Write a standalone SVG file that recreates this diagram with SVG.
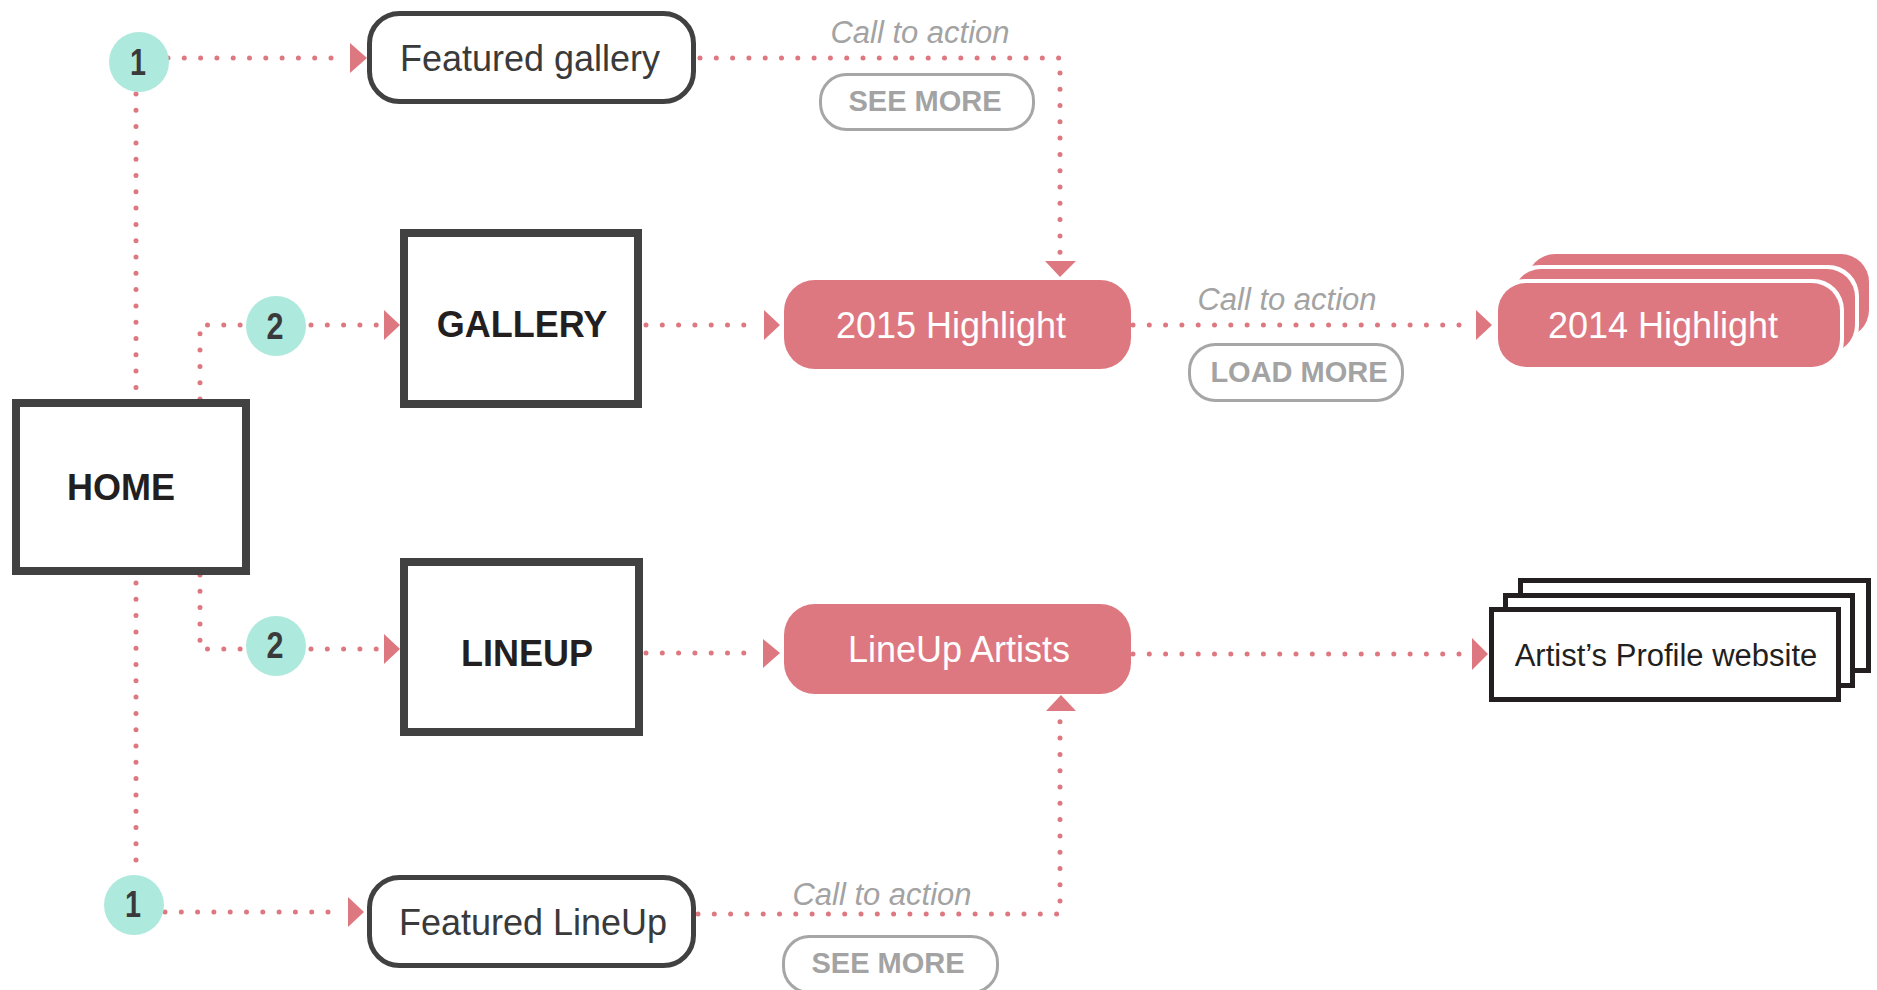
<svg xmlns="http://www.w3.org/2000/svg" width="1877" height="990" viewBox="0 0 1877 990">
<defs>
<style>
.dot{fill:none;stroke:#de7880;stroke-width:5;stroke-linecap:round;stroke-dasharray:0 16.3}
.arr{fill:#de7880}
.badge{fill:#aee9de}
.num{font-family:"Liberation Sans",Arial,sans-serif;font-weight:bold;font-size:36px;fill:#3a3a3a;text-anchor:middle}
.box{fill:#fff;stroke:#414141;stroke-width:8}
.rbox{fill:#fff;stroke:#414141;stroke-width:5}
.pink{fill:#de7880}
.big{font-family:"Liberation Sans",Arial,sans-serif;font-weight:bold;font-size:36px;fill:#231f20;text-anchor:middle}
.reg{font-family:"Liberation Sans",Arial,sans-serif;font-size:36px;fill:#3a3a3a;text-anchor:middle}
.wt{font-family:"Liberation Sans",Arial,sans-serif;font-size:36px;fill:#fff;text-anchor:middle}
.cta{font-family:"Liberation Sans",Arial,sans-serif;font-style:italic;font-size:31px;fill:#a3a3a3;text-anchor:middle}
.btn{fill:#fff;stroke:#a6a6a6;stroke-width:3}
.btnt{font-family:"Liberation Sans",Arial,sans-serif;font-weight:bold;font-size:29px;fill:#a3a3a3;text-anchor:middle}
.page{fill:#fff;stroke:#231f20;stroke-width:5}
.pt{font-family:"Liberation Sans",Arial,sans-serif;font-size:31px;fill:#231f20;text-anchor:middle}
</style>
</defs>
<rect width="1877" height="990" fill="#fff"/>

<g id="connectors">
<path class="dot" d="M168 58 H343"/>
<polygon class="arr" points="350,43 367,58 350,73"/>
<path class="dot" d="M136 94 V390"/>
<path class="dot" d="M136 583 V862"/>
<path class="dot" d="M200 399 V325 H246"/>
<path class="dot" d="M311 325 H378"/>
<polygon class="arr" points="384,310 400,325 384,340"/>
<path class="dot" d="M200 575 V649 H246"/>
<path class="dot" d="M311 649 H378"/>
<polygon class="arr" points="384,634 400,649 384,664"/>
<path class="dot" d="M165 912 H342"/>
<polygon class="arr" points="348,897 364,912 348,927"/>
<path class="dot" d="M700 58 H1060 V253"/>
<polygon class="arr" points="1045,261 1076,261 1060,277"/>
<path class="dot" d="M646 325 H758"/>
<polygon class="arr" points="764,310 780,325 764,340"/>
<path class="dot" d="M1133 325 H1470"/>
<polygon class="arr" points="1476,310 1492,325 1476,340"/>
<path class="dot" d="M646 653 H758"/>
<polygon class="arr" points="763,639 780,653 763,668"/>
<path class="dot" d="M1133 654 H1466"/>
<polygon class="arr" points="1472,638 1488,654 1472,670"/>
<path class="dot" d="M698 914 H1060 V719"/>
<polygon class="arr" points="1046,711 1076,711 1061,695"/>
</g>

<g id="badge-1-top">
<circle class="badge" cx="139" cy="62" r="30"/>
<text class="num" x="138" y="75" textLength="16" lengthAdjust="spacingAndGlyphs">1</text>
</g>
<g id="badge-2-top">
<circle class="badge" cx="276" cy="326" r="30"/>
<text class="num" x="275" y="339" textLength="17" lengthAdjust="spacingAndGlyphs">2</text>
</g>
<g id="badge-2-bottom">
<circle class="badge" cx="276" cy="646" r="30"/>
<text class="num" x="275" y="658" textLength="17" lengthAdjust="spacingAndGlyphs">2</text>
</g>
<g id="badge-1-bottom">
<circle class="badge" cx="134" cy="905" r="30"/>
<text class="num" x="133" y="917" textLength="16" lengthAdjust="spacingAndGlyphs">1</text>
</g>

<g id="home">
<rect class="box" x="16" y="403" width="230" height="168"/>
<text class="big" x="121" y="500">HOME</text>
</g>
<g id="gallery">
<rect class="box" x="404" y="233" width="234" height="171"/>
<text class="big" x="522" y="337">GALLERY</text>
</g>
<g id="lineup">
<rect class="box" x="404" y="562" width="235" height="170"/>
<text class="big" x="527" y="666">LINEUP</text>
</g>

<g id="featured-gallery">
<rect class="rbox" x="369.5" y="13.5" width="324" height="88" rx="30"/>
<text class="reg" x="530" y="71">Featured gallery</text>
</g>
<g id="featured-lineup">
<rect class="rbox" x="369.5" y="877.5" width="324" height="88" rx="30"/>
<text class="reg" x="533" y="935">Featured LineUp</text>
</g>

<g id="highlight-2015">
<rect class="pink" x="784" y="280" width="347" height="89" rx="31"/>
<text class="wt" x="951" y="338">2015 Highlight</text>
</g>
<g id="lineup-artists">
<rect class="pink" x="784" y="604" width="347" height="90" rx="31"/>
<text class="wt" x="959" y="662">LineUp Artists</text>
</g>

<g id="highlight-2014">
<rect class="pink" x="1527" y="254" width="342" height="84" rx="28"/>
<rect fill="#fff" x="1509" y="265" width="350" height="92" rx="31"/>
<rect class="pink" x="1513" y="269" width="342" height="84" rx="28"/>
<rect fill="#fff" x="1494" y="279" width="350" height="92" rx="31"/>
<rect class="pink" x="1498" y="283" width="342" height="84" rx="28"/>
<text class="wt" x="1663" y="338">2014 Highlight</text>
</g>

<g id="artist-profile">
<rect class="page" x="1520.5" y="580.5" width="348" height="90"/>
<rect class="page" x="1505.5" y="595.5" width="347" height="90"/>
<rect class="page" x="1491.5" y="609.5" width="347" height="90"/>
<text class="pt" x="1666" y="666">Artist’s Profile website</text>
</g>

<g id="cta-see-more-top">
<text class="cta" x="920" y="43">Call to action</text>
<rect class="btn" x="820.5" y="74.5" width="213" height="55" rx="26"/>
<text class="btnt" x="925" y="111">SEE MORE</text>
</g>
<g id="cta-load-more">
<text class="cta" x="1287" y="310">Call to action</text>
<rect class="btn" x="1189.5" y="344.5" width="213" height="56" rx="26"/>
<text class="btnt" x="1299" y="382">LOAD MORE</text>
</g>
<g id="cta-see-more-bottom">
<text class="cta" x="882" y="905">Call to action</text>
<rect class="btn" x="783.5" y="936.5" width="214" height="56" rx="26"/>
<text class="btnt" x="888" y="973">SEE MORE</text>
</g>
</svg>
